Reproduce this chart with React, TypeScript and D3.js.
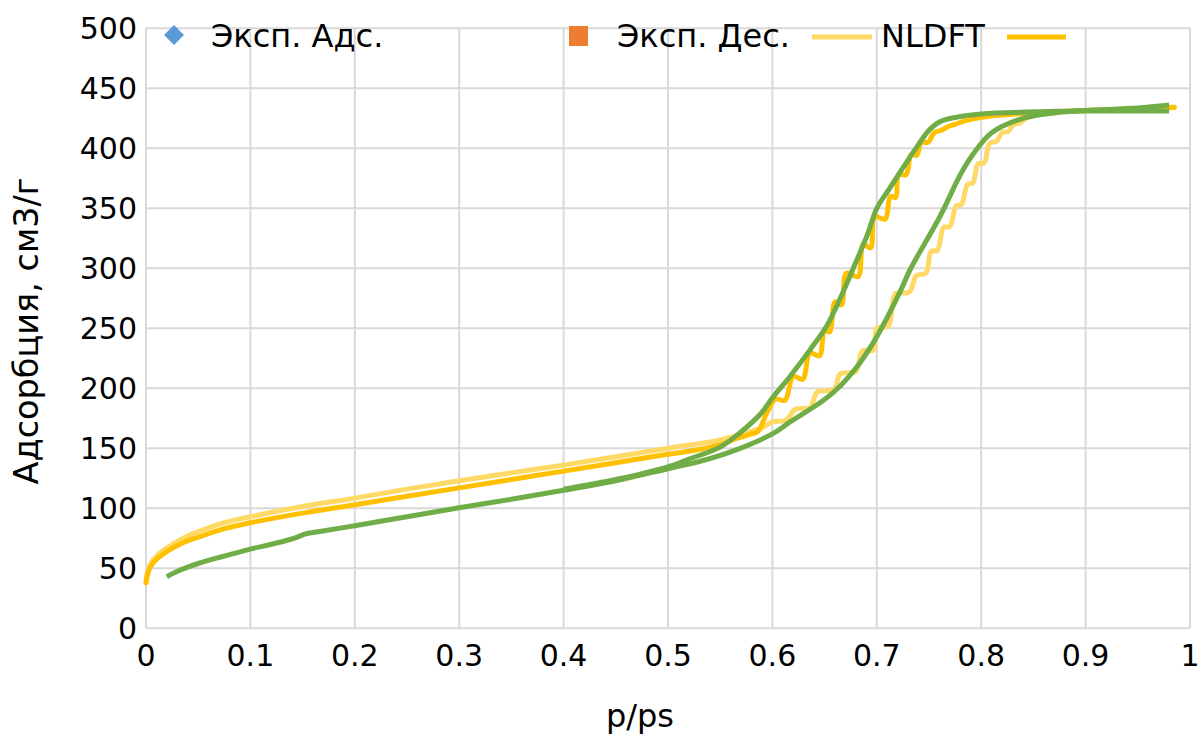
import React from "react";
import * as d3 from "d3";

const W = 1203;
const H = 735;

// Tick labels
const xTicks = [0, 0.1, 0.2, 0.3, 0.4, 0.5, 0.6, 0.7, 0.8, 0.9, 1];
const yTicks = [0, 50, 100, 150, 200, 250, 300, 350, 400, 450, 500];

// Experimental adsorption branch [p/ps, V]
const expAds: [number, number][] = [
  [0.02, 43], [0.03, 47.5], [0.04, 51], [0.05, 54], [0.07, 59], [0.1, 66],
  [0.12, 70], [0.138, 74], [0.145, 76], [0.152, 78.5], [0.165, 80.5],
  [0.2, 85.5], [0.25, 93], [0.3, 100.5], [0.35, 107.5], [0.4, 115],
  [0.45, 123], [0.5, 133], [0.53, 139], [0.56, 147], [0.6, 162],
  [0.617, 172], [0.649, 190], [0.665, 202], [0.681, 218], [0.69, 229],
  [0.7, 243], [0.722, 280], [0.732, 299], [0.761, 344], [0.78, 378],
  [0.793, 396], [0.81, 413], [0.84, 425], [0.87, 429.5], [0.9, 431.5],
  [0.95, 433.5], [0.98, 436],
];

// Experimental desorption branch
const expDes: [number, number][] = [
  [0.98, 431], [0.9, 431], [0.857, 430.5], [0.8, 428.5], [0.777, 426],
  [0.76, 422], [0.75, 415], [0.739, 402], [0.72, 377], [0.711, 365],
  [0.7, 350], [0.691, 328], [0.678, 301], [0.665, 275], [0.652, 252],
  [0.636, 232], [0.617, 210], [0.6, 192], [0.589, 179], [0.569, 163],
  [0.55, 151], [0.52, 141], [0.5, 134.5], [0.45, 124], [0.4, 116],
];

// NLDFT adsorption (light yellow)
const nldftAds: [number, number][] = [
  [0, 38], [0.001, 45], [0.003, 51], [0.006, 56], [0.01, 60], [0.015, 64],
  [0.02, 67], [0.03, 72.5], [0.04, 77], [0.05, 80.5], [0.075, 88],
  [0.1, 93], [0.15, 101.5], [0.2, 108.5], [0.25, 116], [0.3, 123],
  [0.35, 129.5], [0.4, 136], [0.45, 143], [0.5, 150], [0.55, 157],
  [0.575, 163], [0.59, 167], [0.6, 172], [0.613, 173.5], [0.622, 182.5],
  [0.636, 184], [0.643, 197], [0.659, 199], [0.665, 212], [0.68, 214],
  [0.686, 231], [0.697, 232], [0.7, 250], [0.711, 252], [0.718, 279],
  [0.731, 280], [0.738, 294], [0.747, 296], [0.752, 314], [0.758, 315],
  [0.764, 334], [0.77, 335], [0.776, 352], [0.781, 353], [0.787, 370],
  [0.792, 371], [0.797, 387], [0.803, 388], [0.808, 404], [0.815, 406],
  [0.82, 413], [0.826, 414], [0.831, 420], [0.837, 421], [0.843, 425],
  [0.85, 427], [0.86, 429], [0.88, 430.5], [0.9, 431.5], [0.95, 433],
  [0.985, 434.5],
];

// NLDFT desorption (dark yellow)
const nldftDes: [number, number][] = [
  [0, 38], [0.001, 43], [0.003, 49], [0.006, 53.5], [0.01, 57.5],
  [0.015, 61], [0.02, 64], [0.03, 69], [0.04, 73], [0.05, 76], [0.075, 83],
  [0.1, 88], [0.15, 96], [0.2, 103], [0.25, 110], [0.3, 117], [0.35, 124],
  [0.4, 131], [0.45, 138], [0.5, 145], [0.53, 149], [0.55, 153],
  [0.565, 158], [0.58, 162], [0.586, 164], [0.595, 180], [0.603, 191],
  [0.612, 190], [0.62, 210], [0.629, 207.5], [0.636, 229.5], [0.645, 227],
  [0.65, 248], [0.655, 247], [0.66, 272], [0.666, 269.5], [0.671, 296],
  [0.682, 293], [0.687, 320], [0.694, 317], [0.698, 343], [0.708, 341],
  [0.713, 360], [0.718, 359], [0.721, 378], [0.728, 378], [0.733, 395],
  [0.738, 394], [0.743, 405], [0.749, 405], [0.755, 413], [0.762, 415],
  [0.768, 418], [0.775, 420], [0.785, 423], [0.795, 425], [0.81, 427],
  [0.83, 428.5], [0.86, 430], [0.9, 431.5], [0.95, 433], [0.985, 434],
];

const legendLabels = ["Эксп. Адс.", "Эксп. Дес.", "NLDFT"];

const GREEN = "#70AD47";
const LIGHT = "#FFD966";
const DARK = "#FFC000";
const FONT = "'DejaVu Sans', Verdana, sans-serif";

export default function App() {
  const left = 146;
  const right = 1190;
  const top = 28.3;
  const bottom = 628.3;
  const x = d3.scaleLinear().domain([0, 1]).range([left, right]);
  const y = d3.scaleLinear().domain([0, 500]).range([bottom, top]);

  const smooth = d3
    .line<[number, number]>()
    .x((d) => x(d[0]))
    .y((d) => y(d[1]))
    .curve(d3.curveCatmullRom.alpha(0.5));

  return (
    <svg
      width={W}
      height={H}
      viewBox={`0 0 ${W} ${H}`}
      style={{ position: "absolute", left: 0, top: 0, background: "#fff" }}
      fontFamily={FONT}
    >
      <rect x={0} y={0} width={W} height={H} fill="#fff" />
      {/* grid */}
      {xTicks.map((t) => (
        <line
          key={"gx" + t}
          x1={x(t)}
          x2={x(t)}
          y1={top}
          y2={bottom}
          stroke="#D9D9D9"
          strokeWidth={2}
        />
      ))}
      {yTicks.map((t) => (
        <line
          key={"gy" + t}
          x1={left}
          x2={right}
          y1={y(t)}
          y2={y(t)}
          stroke="#D9D9D9"
          strokeWidth={2}
        />
      ))}
      {/* tick labels */}
      {yTicks.map((t) => (
        <text
          key={"ty" + t}
          x={left - 9}
          y={y(t)}
          dy="0.36em"
          textAnchor="end"
          fontSize={30}
          fill="#000"
        >
          {t}
        </text>
      ))}
      {xTicks.map((t) => (
        <text
          key={"tx" + t}
          x={x(t)}
          y={bottom + 38}
          textAnchor="middle"
          fontSize={30}
          fill="#000"
        >
          {String(t)}
        </text>
      ))}
      {/* axis titles */}
      <text x={640} y={727} textAnchor="middle" fontSize={32} fill="#000">
        p/ps
      </text>
      <text
        transform={`translate(38, 331) rotate(-90)`}
        textAnchor="middle"
        fontSize={33.5}
        fill="#000"
      >
        Адсорбция, см3/г
      </text>

      {/* series */}
      <path d={smooth(nldftAds) || ""} fill="none" stroke={LIGHT} strokeWidth={5} strokeLinejoin="round" strokeLinecap="round" />
      <path d={smooth(nldftDes) || ""} fill="none" stroke={DARK} strokeWidth={5} strokeLinejoin="round" strokeLinecap="round" />
      <path d={smooth(expAds) || ""} fill="none" stroke={GREEN} strokeWidth={5} strokeLinejoin="round" />
      <path d={smooth(expDes) || ""} fill="none" stroke={GREEN} strokeWidth={5} strokeLinejoin="round" />

      {/* legend */}
      <g>
        <path d="M174,25 L184,35 L174,45 L164,35 Z" fill="#5B9BD5" />
        <text x={211} y={47} fontSize={32} fill="#000">{legendLabels[0]}</text>
        <rect x={569} y={26} width={19} height={20} fill="#ED7D31" />
        <text x={617} y={47} fontSize={32} fill="#000">{legendLabels[1]}</text>
        <line x1={812} x2={872} y1={37} y2={37} stroke={LIGHT} strokeWidth={5} />
        <text x={881} y={47} fontSize={32} fill="#000">{legendLabels[2]}</text>
        <line x1={1007} x2={1066} y1={37} y2={37} stroke={DARK} strokeWidth={5} />
      </g>
    </svg>
  );
}
